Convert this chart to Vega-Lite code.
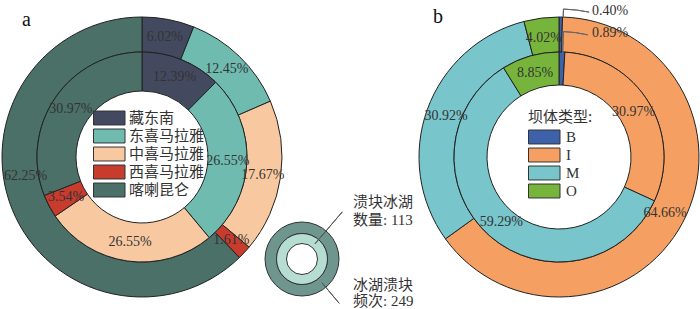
{
  "$schema": "https://vega.github.io/schema/vega-lite/v6.json",
  "padding": 0,
  "background": "#ffffff",
  "bounds": "flush",
  "spacing": 0,
  "config": {"view": {"stroke": null}},
  "datasets": {
    "regions": [
      {"region": "藏东南", "ring": "频次", "share": 0.0602, "k": 1},
      {"region": "东喜马拉雅", "ring": "频次", "share": 0.1245, "k": 2},
      {"region": "中喜马拉雅", "ring": "频次", "share": 0.1767, "k": 3},
      {"region": "西喜马拉雅", "ring": "频次", "share": 0.0161, "k": 4},
      {"region": "喀喇昆仑", "ring": "频次", "share": 0.6225, "k": 5},
      {"region": "藏东南", "ring": "数量", "share": 0.1239, "k": 1},
      {"region": "东喜马拉雅", "ring": "数量", "share": 0.2655, "k": 2},
      {"region": "中喜马拉雅", "ring": "数量", "share": 0.2655, "k": 3},
      {"region": "西喜马拉雅", "ring": "数量", "share": 0.0354, "k": 4},
      {"region": "喀喇昆仑", "ring": "数量", "share": 0.3097, "k": 5}
    ],
    "dams": [
      {"dam": "B", "ring": "频次", "share": 0.0040, "k": 1},
      {"dam": "I", "ring": "频次", "share": 0.6466, "k": 2},
      {"dam": "M", "ring": "频次", "share": 0.3092, "k": 3},
      {"dam": "O", "ring": "频次", "share": 0.0402, "k": 4},
      {"dam": "B", "ring": "数量", "share": 0.0089, "k": 1},
      {"dam": "I", "ring": "数量", "share": 0.3097, "k": 2},
      {"dam": "M", "ring": "数量", "share": 0.5929, "k": 3},
      {"dam": "O", "ring": "数量", "share": 0.0885, "k": 4}
    ],
    "schematic": [
      {"ring": "数量", "label": "溃块冰湖\n数量: 113", "count": 113},
      {"ring": "频次", "label": "冰湖溃块\n频次: 249", "count": 249}
    ]
  },
  "resolve": {"scale": {"color": "independent", "theta": "independent"}, "legend": {"color": "independent"}},
  "hconcat": [
    {
      "width": 284,
      "height": 306,
      "title": {"text": "a", "anchor": "start", "frame": "group", "orient": "top", "offset": -42, "dx": 22, "font": "Liberation Serif", "fontSize": 20, "fontWeight": "normal", "color": "#111111", "baseline": "alphabetic"},
      "data": {"name": "regions"},
      "layer": [
        {
          "transform": [{"filter": "datum.ring === '频次'"}],
          "mark": {"type": "arc", "radius": 140, "radius2": 105, "stroke": "#222222", "strokeWidth": 1},
          "encoding": {
            "theta": {"field": "share", "type": "quantitative", "stack": true},
            "order": {"field": "k", "type": "quantitative"},
            "color": {"field": "region", "type": "nominal",
              "scale": {"domain": ["藏东南", "东喜马拉雅", "中喜马拉雅", "西喜马拉雅", "喀喇昆仑"], "range": ["#434a5f", "#6fbbb0", "#f8c9a0", "#c83c2e", "#4a7068"]},
              "legend": {"title": null, "orient": "none", "legendX": 93, "legendY": 106, "symbolType": "M-1,-0.93H3.2V0.93H-1Z", "symbolSize": 225, "symbolStrokeColor": "#333333", "symbolStrokeWidth": 1, "symbolOpacity": 1, "labelFont": "Noto Sans CJK SC", "labelFontSize": 15, "labelColor": "#333333", "labelOffset": 20, "rowPadding": 0, "labelLimit": 200}}
          }
        },
        {
          "transform": [{"filter": "datum.ring === '数量'"}],
          "mark": {"type": "arc", "radius": 105, "radius2": 66, "stroke": "#222222", "strokeWidth": 1},
          "encoding": {
            "theta": {"field": "share", "type": "quantitative", "stack": true},
            "order": {"field": "k", "type": "quantitative"},
            "color": {"field": "region", "type": "nominal",
              "scale": {"domain": ["藏东南", "东喜马拉雅", "中喜马拉雅", "西喜马拉雅", "喀喇昆仑"], "range": ["#434a5f", "#6fbbb0", "#f8c9a0", "#c83c2e", "#4a7068"]},
              "legend": {"title": null, "orient": "none", "legendX": 93, "legendY": 106, "symbolType": "M-1,-0.93H3.2V0.93H-1Z", "symbolSize": 225, "symbolStrokeColor": "#333333", "symbolStrokeWidth": 1, "symbolOpacity": 1, "labelFont": "Noto Sans CJK SC", "labelFontSize": 15, "labelColor": "#333333", "labelOffset": 20, "rowPadding": 0, "labelLimit": 200}}
          }
        },
        {
          "transform": [{"filter": "datum.ring === '频次'"}],
          "mark": {"type": "text", "radius": 122, "font": "Liberation Serif", "fontSize": 14, "color": "#333333"},
          "encoding": {
            "theta": {"field": "share", "type": "quantitative", "stack": true},
            "order": {"field": "k", "type": "quantitative"},
            "detail": {"field": "region", "type": "nominal"},
            "text": {"field": "share", "type": "quantitative", "format": ".2%"},
            "opacity": {"condition": {"test": "datum.region === '喀喇昆仑'", "value": 0}, "value": 1}
          }
        },
        {
          "transform": [{"filter": "datum.ring === '频次'"}],
          "mark": {"type": "text", "radius": 118, "thetaOffset": 0.222, "font": "Liberation Serif", "fontSize": 14, "color": "#333333"},
          "encoding": {
            "theta": {"field": "share", "type": "quantitative", "stack": true},
            "order": {"field": "k", "type": "quantitative"},
            "detail": {"field": "region", "type": "nominal"},
            "text": {"field": "share", "type": "quantitative", "format": ".2%"},
            "opacity": {"condition": {"test": "datum.region === '喀喇昆仑'", "value": 1}, "value": 0}
          }
        },
        {
          "transform": [{"filter": "datum.ring === '数量'"}],
          "mark": {"type": "text", "radius": 86, "font": "Liberation Serif", "fontSize": 14, "color": "#333333"},
          "encoding": {
            "theta": {"field": "share", "type": "quantitative", "stack": true},
            "order": {"field": "k", "type": "quantitative"},
            "detail": {"field": "region", "type": "nominal"},
            "text": {"field": "share", "type": "quantitative", "format": ".2%"}
          }
        }
      ]
    },
    {
      "width": 135,
      "height": 309,
      "data": {"name": "schematic"},
      "resolve": {"scale": {"theta": "independent"}},
      "layer": [
        {
          "transform": [{"filter": "datum.ring === '频次'"}],
          "mark": {"type": "arc", "radius": 37, "radius2": 25.5, "xOffset": -49.5, "yOffset": 100.5, "stroke": "#333333", "strokeWidth": 1},
          "encoding": {
            "theta": {"field": "count", "type": "quantitative", "stack": true},
            "color": {"field": "ring", "type": "nominal", "scale": {"domain": ["频次", "数量"], "range": ["#6f968e", "#b5ddd2"]}, "legend": null}
          }
        },
        {
          "transform": [{"filter": "datum.ring === '数量'"}],
          "mark": {"type": "arc", "radius": 25.5, "radius2": 15.5, "xOffset": -49.5, "yOffset": 100.5, "stroke": "#333333", "strokeWidth": 1},
          "encoding": {
            "theta": {"field": "count", "type": "quantitative", "stack": true},
            "color": {"field": "ring", "type": "nominal", "scale": {"domain": ["频次", "数量"], "range": ["#6f968e", "#b5ddd2"]}, "legend": null}
          }
        },
        {
          "transform": [{"filter": "datum.ring === '数量'"}],
          "mark": {"type": "arc", "theta": 0.707, "theta2": 0.707, "radius": 62, "radius2": 20, "xOffset": -49.5, "yOffset": 100.5, "filled": false, "stroke": "#555555", "strokeWidth": 1},
          "encoding": {}
        },
        {
          "transform": [{"filter": "datum.ring === '频次'"}],
          "mark": {"type": "arc", "theta": 2.443, "theta2": 2.443, "radius": 58, "radius2": 31, "xOffset": -49.5, "yOffset": 100.5, "filled": false, "stroke": "#555555", "strokeWidth": 1},
          "encoding": {}
        },
        {
          "transform": [{"filter": "datum.ring === '数量'"}],
          "mark": {"type": "text", "align": "left", "baseline": "middle", "dx": 1.5, "dy": 43.5, "lineBreak": "\n", "lineHeight": 18, "font": "Liberation Serif, Noto Sans CJK SC", "fontSize": 15, "color": "#333333"},
          "encoding": {"text": {"field": "label", "type": "nominal"}}
        },
        {
          "transform": [{"filter": "datum.ring === '频次'"}],
          "mark": {"type": "text", "align": "left", "baseline": "middle", "dx": 1.5, "dy": 126, "lineBreak": "\n", "lineHeight": 16, "font": "Liberation Serif, Noto Sans CJK SC", "fontSize": 15, "color": "#333333"},
          "encoding": {"text": {"field": "label", "type": "nominal"}}
        }
      ]
    },
    {
      "width": 280,
      "height": 306,
      "title": {"text": "b", "anchor": "start", "frame": "group", "orient": "top", "offset": -42, "dx": 14, "font": "Liberation Serif", "fontSize": 20, "fontWeight": "normal", "color": "#111111", "baseline": "alphabetic"},
      "data": {"name": "dams"},
      "layer": [
        {
          "transform": [{"filter": "datum.ring === '频次'"}],
          "mark": {"type": "arc", "radius": 140, "radius2": 105, "stroke": "#222222", "strokeWidth": 1},
          "encoding": {
            "theta": {"field": "share", "type": "quantitative", "stack": true},
            "order": {"field": "k", "type": "quantitative"},
            "color": {"field": "dam", "type": "nominal",
              "scale": {"domain": ["B", "I", "M", "O"], "range": ["#3d62aa", "#f5a062", "#78c5cb", "#76b43c"]},
              "legend": {"title": "坝体类型:", "orient": "none", "legendX": 109, "legendY": 106, "titleFont": "Noto Sans CJK SC", "titleFontSize": 15, "titleFontWeight": "normal", "titleColor": "#333333", "titlePadding": 4, "symbolType": "M-1,-0.93H3.2V0.93H-1Z", "symbolSize": 225, "symbolStrokeColor": "#333333", "symbolStrokeWidth": 1, "symbolOpacity": 1, "labelFont": "Liberation Serif", "labelFontSize": 15, "labelColor": "#333333", "labelOffset": 22, "rowPadding": 0}}
          }
        },
        {
          "transform": [{"filter": "datum.ring === '数量'"}],
          "mark": {"type": "arc", "radius": 105, "radius2": 72, "stroke": "#222222", "strokeWidth": 1},
          "encoding": {
            "theta": {"field": "share", "type": "quantitative", "stack": true},
            "order": {"field": "k", "type": "quantitative"},
            "color": {"field": "dam", "type": "nominal",
              "scale": {"domain": ["B", "I", "M", "O"], "range": ["#3d62aa", "#f5a062", "#78c5cb", "#76b43c"]},
              "legend": {"title": "坝体类型:", "orient": "none", "legendX": 109, "legendY": 106, "titleFont": "Noto Sans CJK SC", "titleFontSize": 15, "titleFontWeight": "normal", "titleColor": "#333333", "titlePadding": 4, "symbolType": "M-1,-0.93H3.2V0.93H-1Z", "symbolSize": 225, "symbolStrokeColor": "#333333", "symbolStrokeWidth": 1, "symbolOpacity": 1, "labelFont": "Liberation Serif", "labelFontSize": 15, "labelColor": "#333333", "labelOffset": 22, "rowPadding": 0}}
          }
        },
        {
          "transform": [{"filter": "datum.ring === '频次'"}],
          "mark": {"type": "text", "radius": 120, "font": "Liberation Serif", "fontSize": 14, "color": "#333333"},
          "encoding": {
            "theta": {"field": "share", "type": "quantitative", "stack": true},
            "order": {"field": "k", "type": "quantitative"},
            "detail": {"field": "dam", "type": "nominal"},
            "text": {"field": "share", "type": "quantitative", "format": ".2%"},
            "opacity": {"condition": {"test": "datum.dam === 'B'", "value": 0}, "value": 1}
          }
        },
        {
          "transform": [{"filter": "datum.ring === '数量'"}],
          "mark": {"type": "text", "radius": 87, "font": "Liberation Serif", "fontSize": 14, "color": "#333333"},
          "encoding": {
            "theta": {"field": "share", "type": "quantitative", "stack": true},
            "order": {"field": "k", "type": "quantitative"},
            "detail": {"field": "dam", "type": "nominal"},
            "text": {"field": "share", "type": "quantitative", "format": ".2%"},
            "opacity": {"condition": {"test": "datum.dam === 'B'", "value": 0}, "value": 1}
          }
        },
        {
          "transform": [{"filter": "datum.ring === '频次'"}],
          "mark": {"type": "text", "radius": 150, "thetaOffset": 0.2097, "align": "left", "baseline": "middle", "font": "Liberation Serif", "fontSize": 14, "color": "#333333"},
          "encoding": {
            "theta": {"field": "share", "type": "quantitative", "stack": true},
            "order": {"field": "k", "type": "quantitative"},
            "detail": {"field": "dam", "type": "nominal"},
            "text": {"field": "share", "type": "quantitative", "format": ".2%"},
            "opacity": {"condition": {"test": "datum.dam === 'B'", "value": 1}, "value": 0}
          }
        },
        {
          "transform": [{"filter": "datum.ring === '数量'"}],
          "mark": {"type": "text", "radius": 128, "thetaOffset": 0.232, "align": "left", "baseline": "middle", "font": "Liberation Serif", "fontSize": 14, "color": "#333333"},
          "encoding": {
            "theta": {"field": "share", "type": "quantitative", "stack": true},
            "order": {"field": "k", "type": "quantitative"},
            "detail": {"field": "dam", "type": "nominal"},
            "text": {"field": "share", "type": "quantitative", "format": ".2%"},
            "opacity": {"condition": {"test": "datum.dam === 'B'", "value": 1}, "value": 0}
          }
        },
        {
          "transform": [{"filter": "datum.ring === '频次' && datum.dam === 'B'"}],
          "mark": {"type": "arc", "theta": 0.03, "theta2": 0.03, "radius": 148, "radius2": 140, "filled": false, "stroke": "#666666", "strokeWidth": 1},
          "encoding": {}
        },
        {
          "transform": [{"filter": "datum.ring === '频次' && datum.dam === 'B'"}],
          "mark": {"type": "arc", "theta": 0.03, "theta2": 0.205, "radius": 148, "radius2": 148, "filled": false, "stroke": "#666666", "strokeWidth": 1},
          "encoding": {}
        },
        {
          "transform": [{"filter": "datum.ring === '数量' && datum.dam === 'B'"}],
          "mark": {"type": "arc", "theta": 0.035, "theta2": 0.035, "radius": 125.5, "radius2": 104, "filled": false, "stroke": "#666666", "strokeWidth": 1},
          "encoding": {}
        },
        {
          "transform": [{"filter": "datum.ring === '数量' && datum.dam === 'B'"}],
          "mark": {"type": "arc", "theta": 0.035, "theta2": 0.232, "radius": 125.5, "radius2": 125.5, "filled": false, "stroke": "#666666", "strokeWidth": 1},
          "encoding": {}
        }
      ]
    }
  ]
}
